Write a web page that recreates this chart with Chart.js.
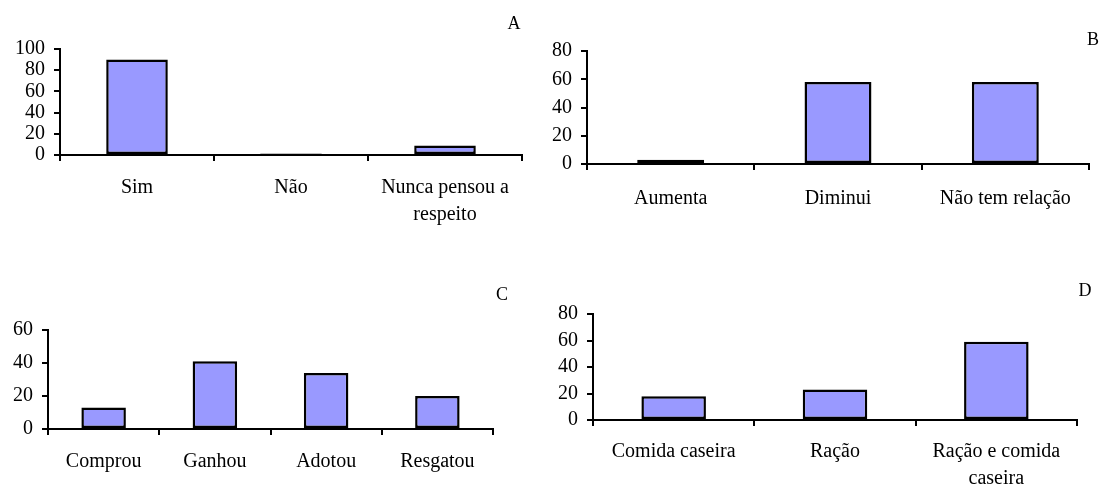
<!DOCTYPE html>
<html>
<head>
<meta charset="utf-8">
<script src="https://cdn.jsdelivr.net/npm/chart.js@4.4.0/dist/chart.umd.min.js"></script>
<style>
  body { margin: 0; background: #fff; }
  #wrap { position: relative; width: 1104px; height: 486px; }
  canvas { position: absolute; }
</style>
</head>
<body>
<div id="wrap">
  <canvas id="cA" width="540" height="240" style="left:0;top:0"></canvas>
  <canvas id="cB" width="564" height="240" style="left:540px;top:0"></canvas>
  <canvas id="cC" width="540" height="216" style="left:0;top:270px"></canvas>
  <canvas id="cD" width="564" height="216" style="left:540px;top:270px"></canvas>
</div>
<script>
// data
let catsA = ['Sim', 'Não', ['Nunca pensou a', 'respeito']]
let valsA = [90, 1.5, 9]
let maxA = 100

let catsB = ['Aumenta', 'Diminui', 'Não tem relação']
let valsB = [3, 58, 58]
let maxB = 80

let catsC = ['Comprou', 'Ganhou', 'Adotou', 'Resgatou']
let valsC = [13, 41, 34, 20]
let maxC = 60

let catsD = ['Comida caseira', 'Ração', ['Ração e comida', 'caseira']]
let valsD = [18, 23, 59]
let maxD = 80

const serif = "'Liberation Serif', 'Times New Roman', serif"

// panel letter
const letterPlugin = {
    id: 'letter',
    afterDraw(chart, args, opts) {
        const ctx = chart.ctx
        ctx.save()
        ctx.font = '18px ' + serif
        ctx.fillStyle = '#000'
        ctx.textAlign = 'center'
        ctx.textBaseline = 'middle'
        ctx.fillText(opts.text, opts.x, opts.y)
        ctx.restore()
    }
}

function plotting(id, labels, values, max, g) {
    new Chart(document.getElementById(id), {
        type: 'bar',
        data: {
            labels: labels,
            datasets: [{
                data: values,
                backgroundColor: '#9999FF',
                borderColor: '#000',
                borderWidth: 2.5,
                borderSkipped: false,
                categoryPercentage: 1,
                barPercentage: 0.4
            }]
        },
        options: {
            responsive: false,
            animation: false,
            layout: { padding: { top: g.top, right: g.right, left: 0, bottom: 0 } },
            plugins: {
                legend: { display: false },
                tooltip: { enabled: false },
                letter: { text: g.letter, x: g.lx, y: g.ly }
            },
            scales: {
                x: {
                    grid: { drawOnChartArea: false, drawTicks: true, tickLength: 6, color: '#000', lineWidth: 2 },
                    border: { color: '#000', width: 2 },
                    ticks: {
                        color: '#000', font: { family: serif, size: 20, lineHeight: 1.35 },
                        padding: g.pad, maxRotation: 0, autoSkip: false
                    },
                    afterFit(s) { s.height = g.xh }
                },
                y: {
                    min: 0, max: max,
                    grid: { drawOnChartArea: false, drawTicks: true, tickLength: 6, color: '#000', lineWidth: 2 },
                    border: { color: '#000', width: 2 },
                    ticks: { stepSize: 20, autoSkip: false, color: '#000', font: { family: serif, size: 20 }, padding: 9 },
                    afterFit(s) { s.width = g.yw }
                }
            }
        },
        plugins: [letterPlugin]
    })
}

plotting('cA', catsA, valsA, maxA, { top: 49, right: 18, yw: 60, xh: 85, pad: 13, letter: 'A', lx: 514, ly: 24 })
plotting('cB', catsB, valsB, maxB, { top: 51, right: 15, yw: 47, xh: 76, pad: 15, letter: 'B', lx: 553, ly: 40 })
plotting('cC', catsC, valsC, maxC, { top: 60, right: 47, yw: 48, xh: 57, pad: 13, letter: 'C', lx: 502, ly: 25 })
plotting('cD', catsD, valsD, maxD, { top: 44, right: 27, yw: 53, xh: 66, pad: 12, letter: 'D', lx: 545, ly: 21 })
</script>
</body>
</html>
